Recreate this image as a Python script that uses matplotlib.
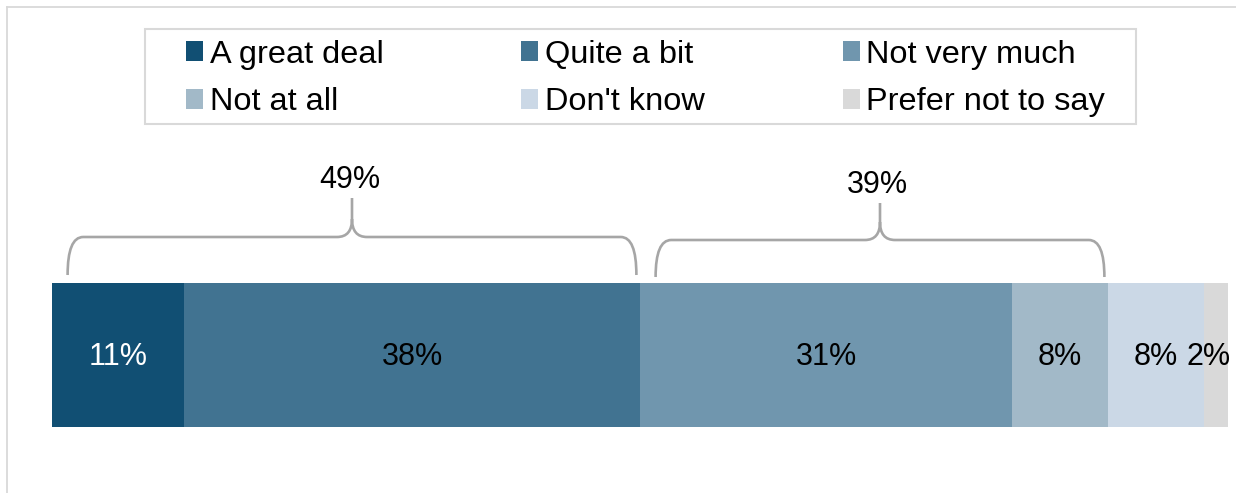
import matplotlib
matplotlib.use("Agg")
import matplotlib.pyplot as plt
from matplotlib.patches import Patch, PathPatch, Rectangle
from matplotlib.path import Path
from matplotlib.lines import Line2D

categories = ["A great deal", "Quite a bit", "Not very much",
              "Not at all", "Don't know", "Prefer not to say"]
values = [11, 38, 31, 8, 8, 2]
colors = ["#114f73", "#417391", "#7096ae", "#a2b9c8", "#cbd8e6", "#d9d9d9"]
label_colors = ["white", "black", "black", "black", "black", "black"]
label_shift = [0, 0, 0, 0, 0, -0.6]  # small horizontal nudge of labels
groups = [(0, 2), (2, 4)]  # index ranges summed under braces

plt.rcParams['font.family'] = ['Liberation Sans', 'DejaVu Sans']

W, H = 1236, 493
fig = plt.figure(figsize=(W / 100, H / 100), dpi=100)
ax = fig.add_axes([0, 0, 1, 1])
px = 12.0  # pixels per percentage point
x0px = 52
ax.set_xlim(-x0px / px, (W - x0px) / px)
ax.set_ylim(H, 0)
ax.axis("off")

bar_y, bar_h = 355, 144
left = 0
lefts = []
for v, c in zip(values, colors):
    ax.barh(bar_y, v, left=left, height=bar_h, color=c, edgecolor="none")
    lefts.append(left)
    left += v

# segment labels
for v, l, lc, s in zip(values, lefts, label_colors, label_shift):
    ax.text(l + v / 2 + s, bar_y + 2, f"{v}%", ha="center", va="center",
            fontsize=22, color=lc)

# braces
def brace(xa, xb, yb, yt, ytip, r=1.3, rt=1.25):
    xm = (xa + xb) / 2
    verts = [
        (xa, yb), (xa, yt), (xa + r, yt),
        (xm - rt, yt), (xm, yt), (xm, yt - 18),
        (xm, ytip),
        (xm, yt - 18), (xm, yt), (xm + rt, yt),
        (xb - r, yt), (xb, yt), (xb, yb),
    ]
    codes = [Path.MOVETO, Path.CURVE3, Path.CURVE3,
             Path.LINETO, Path.CURVE3, Path.CURVE3,
             Path.LINETO,
             Path.MOVETO, Path.CURVE3, Path.CURVE3,
             Path.LINETO, Path.CURVE3, Path.CURVE3]
    ax.add_patch(PathPatch(Path(verts, codes), facecolor="none",
                           edgecolor="#a6a6a6", lw=1.9, capstyle="butt"))
    return xm

brace_specs = [(275, 237, 198), (277, 240, 203)]
for (i0, i1), (yb, yt, ytip) in zip(groups, brace_specs):
    start = sum(values[:i0])
    end = sum(values[:i1])
    total = sum(values[i0:i1])
    xm = brace(start + 1.3, end - 0.3, yb, yt, ytip)
    ax.text(xm - 0.2, ytip - 18, f"{total}%", ha="center", va="center",
            fontsize=22, color="black")

# legend (row-wise order like the reference)
order = [0, 3, 1, 4, 2, 5]
handles = [Patch(facecolor=colors[i], edgecolor="none") for i in order]
labels = [categories[i] for i in order]
leg = fig.legend(handles, labels, ncol=3, mode="expand",
                 bbox_to_anchor=(186 / W, 1 - 128 / H, (1105 - 186) / W, 99 / H),
                 loc="center", borderaxespad=0, fontsize=23.4,
                 frameon=False, handlelength=0.53,
                 handleheight=0.53, handletextpad=0.2, labelspacing=0.55,
                 borderpad=0, columnspacing=1.0)
fig.add_artist(Rectangle((145 / W, 1 - 124 / H), 991 / W, 95 / H,
                         transform=fig.transFigure, facecolor="none",
                         edgecolor="#d9d9d9", lw=1.5))

# outer frame (left and top edges visible)
fig.add_artist(Line2D([7 / W, 7 / W], [0, 1 - 7 / H], transform=fig.transFigure,
                      color="#d9d9d9", lw=1.3))
fig.add_artist(Line2D([7 / W, 1], [1 - 7 / H, 1 - 7 / H], transform=fig.transFigure,
                      color="#d9d9d9", lw=1.3))

fig.savefig("out.png", dpi=100, facecolor="white")
